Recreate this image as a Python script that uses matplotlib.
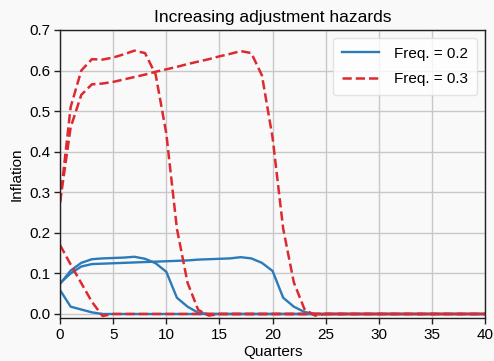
import matplotlib
matplotlib.use("Agg")
import matplotlib.pyplot as plt

quarters = list(range(41))

# Freq. = 0.2 (blue, solid)
blue_a = [0.074, 0.107, 0.126, 0.135, 0.137, 0.138, 0.139, 0.141, 0.136, 0.125,
          0.104, 0.040, 0.018, 0.003, 0.0, 0.0, 0.0, 0.0, 0.0, 0.0,
          0.0, 0.0, 0.0, 0.0, 0.0, 0.0, 0.0, 0.0, 0.0, 0.0,
          0.0, 0.0, 0.0, 0.0, 0.0, 0.0, 0.0, 0.0, 0.0, 0.0, 0.0]
blue_b = [0.076, 0.100, 0.117, 0.123, 0.124, 0.125, 0.126, 0.127, 0.128, 0.129,
          0.130, 0.131, 0.132, 0.134, 0.135, 0.136, 0.137, 0.140, 0.137, 0.126,
          0.106, 0.040, 0.018, 0.005, 0.0, 0.0, 0.0, 0.0, 0.0, 0.0,
          0.0, 0.0, 0.0, 0.0, 0.0, 0.0, 0.0, 0.0, 0.0, 0.0, 0.0]
blue_c = [0.059, 0.018, 0.011, 0.004, 0.0, 0.0, 0.0, 0.0, 0.0, 0.0,
          0.0, 0.0, 0.0, 0.0, 0.0, 0.0, 0.0, 0.0, 0.0, 0.0,
          0.0, 0.0, 0.0, 0.0, 0.0, 0.0, 0.0, 0.0, 0.0, 0.0,
          0.0, 0.0, 0.0, 0.0, 0.0, 0.0, 0.0, 0.0, 0.0, 0.0, 0.0]

# Freq. = 0.3 (red, dashed)
red_a = [0.275, 0.510, 0.600, 0.628, 0.627, 0.632, 0.640, 0.649, 0.643, 0.590,
         0.445, 0.210, 0.077, 0.010, -0.004, 0.0, 0.0, 0.0, 0.0, 0.0,
         0.0, 0.0, 0.0, 0.0, 0.0, 0.0, 0.0, 0.0, 0.0, 0.0,
         0.0, 0.0, 0.0, 0.0, 0.0, 0.0, 0.0, 0.0, 0.0, 0.0, 0.0]
red_b = [0.275, 0.460, 0.540, 0.566, 0.568, 0.572, 0.578, 0.584, 0.590, 0.597,
         0.603, 0.609, 0.616, 0.622, 0.628, 0.635, 0.641, 0.648, 0.643, 0.588,
         0.435, 0.210, 0.078, 0.012, -0.004, 0.0, 0.0, 0.0, 0.0, 0.0,
         0.0, 0.0, 0.0, 0.0, 0.0, 0.0, 0.0, 0.0, 0.0, 0.0, 0.0]
red_c = [0.170, 0.122, 0.076, 0.030, -0.005, 0.0, 0.0, 0.0, 0.0, 0.0,
         0.0, 0.0, 0.0, 0.0, 0.0, 0.0, 0.0, 0.0, 0.0, 0.0,
         0.0, 0.0, 0.0, 0.0, 0.0, 0.0, 0.0, 0.0, 0.0, 0.0,
         0.0, 0.0, 0.0, 0.0, 0.0, 0.0, 0.0, 0.0, 0.0, 0.0, 0.0]

blue = "#2b7bba"
red = "#dc2a30"

plt.rcParams["font.family"] = ["Liberation Sans", "DejaVu Sans"]
plt.rcParams["font.size"] = 11

fig = plt.figure(figsize=(4.94, 3.61), dpi=100, facecolor="#f9f9f9")
ax = fig.add_axes([0.1215, 0.119, 0.8605, 0.798])
ax.set_facecolor("#f9f9f9")

ax.plot(quarters, blue_a, color=blue, lw=1.7, label="Freq. = 0.2")
ax.plot(quarters, blue_b, color=blue, lw=1.7)
ax.plot(quarters, blue_c, color=blue, lw=1.7)
ax.plot(quarters, red_a, color=red, lw=1.8, ls="--", label="Freq. = 0.3")
ax.plot(quarters, red_b, color=red, lw=1.8, ls="--")
ax.plot(quarters, red_c, color=red, lw=1.8, ls="--")

ax.set_xlim(0, 40)
ax.set_ylim(-0.01, 0.7)
ax.set_xticks(range(0, 41, 5))
ax.set_yticks([0.0, 0.1, 0.2, 0.3, 0.4, 0.5, 0.6, 0.7])
ax.grid(True, color="#c8c8c8", lw=1)
ax.set_axisbelow(True)
for s in ax.spines.values():
    s.set_color("#222222")
    s.set_linewidth(1.0)
ax.tick_params(length=4, width=1, color="#222222", labelsize=11, pad=3)

ax.set_title("Increasing adjustment hazards", fontsize=12.5, pad=6)
ax.set_xlabel("Quarters", fontsize=11, labelpad=2)
ax.set_ylabel("Inflation", fontsize=11, labelpad=4)

leg = ax.legend(loc="upper right", fontsize=11, frameon=True, handlelength=2.4,
                borderaxespad=0.5, labelspacing=0.75, borderpad=0.6,
                handletextpad=1.0)
leg.get_frame().set_facecolor("white")
leg.get_frame().set_edgecolor("#dddddd")

fig.savefig("out.png", dpi=100, facecolor=fig.get_facecolor())
